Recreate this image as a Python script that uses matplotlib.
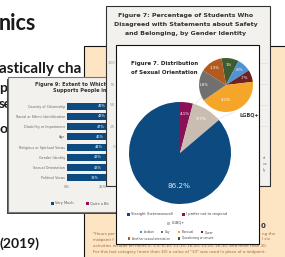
import numpy as np
import matplotlib
matplotlib.use("Agg")
import matplotlib.pyplot as plt
from matplotlib.patches import Rectangle

# --- data ---
fig9_categories = ["Country of Citizenship", "Racial or Ethnic Identification",
                   "Disability or Impairment", "Age", "Religious or Spiritual Views",
                   "Gender Identity", "Sexual Orientation", "Political Views"]
fig9_very_much = [49, 48, 47, 46, 44, 43, 43, 38]
fig9_xticks = [0, 25]

fig7b_labels = ["I prefer not to respond", "LGBQ+", "Straight (heterosexual)"]
fig7b_values = [4.1, 9.7, 86.2]

lgbq_labels = ["Questioning or unsure", "Lesbian", "Queer", "Bisexual", "Gay",
               "Another sexual orientation"]
lgbq_values = [1.0, 0.8, 0.7, 4.1, 1.8, 1.3]
lgbq_text = ["1%", ".8%", ".7%", "4.1%", "1.8%", "1.3%"]

fig7a_yticks = [0, 25, 50, 75, 100]

# colours
BLUE = "#0c4a80"
MAGENTA = "#8c1056"
BEIGE = "#c8bdb0"
lgbq_colors = ["#3f5b30", "#4f93d2", "#6e2222", "#f5a62a", "#707070", "#b35a20"]
PEACH = "#fde5c4"
PANEL = "#f3f1ee"

NARROW = ["Liberation Sans Narrow", "DejaVu Sans"]

W, H = 285, 257
fig = plt.figure(figsize=(W / 100, H / 100), dpi=100)


def px_axes(x0, y0, x1, y1, z):
    # axes whose data coords are picture pixels
    ax = fig.add_axes([x0 / W, 1 - y1 / H, (x1 - x0) / W, (y1 - y0) / H], zorder=z)
    ax.set_xlim(x0, x1)
    ax.set_ylim(y1, y0)
    ax.axis("off")
    return ax


def panel(x0, y0, x1, y1, z, face, edge, shadow=None, lw=0.8):
    ax = px_axes(x0 - 3, y0 - 3, x1 + 3, y1 + 3, z)
    if shadow:
        ax.add_patch(Rectangle((x0 + shadow[0], y0 + shadow[1]), x1 - x0, y1 - y0,
                               fc="#444444", lw=0))
    ax.add_patch(Rectangle((x0, y0), x1 - x0, y1 - y0, fc=face, ec=edge, lw=lw))
    return ax


# background slide (only the uncovered parts of its text)
bg = px_axes(0, 0, W, H, 0)
bg.add_patch(Rectangle((0, 0), W, H, fc="white", lw=0))
tk = dict(family="Lato", weight="bold", color="#1a1a1a", va="baseline", ha="left")
bg.text(-1, 30, "nics", fontsize=15.5, **tk)
bg.text(-1, 73, "astically cha", fontsize=11, **tk)
bg.text(-0.5, 92, "p", fontsize=10, **tk)
bg.text(-1, 108, "se", fontsize=9.5, **tk)
bg.text(-1, 133, "o", fontsize=10, **tk)
bg.text(-1, 248, "(2019)", fontsize=10, **tk)

# peach panel
pe = panel(84, 46, 300, 270, 1, PEACH, "#111111")
fn = dict(family=NARROW, fontsize=2.9, color="#9a6a3c", va="center", ha="left")
pe.text(93, 234, "*Hours per", **fn)
pe.text(93, 239.5, "midpoint f", **fn)
pe.text(262, 234, "ng the", **fn)
pe.text(262, 239.5, "l six", **fn)
pe.text(93, 246, "activities include on hours 0, 1-5, 6-10, 11-15, 16-20, 21-25, 26-30, and more than 30.", **fn)
pe.text(93, 252, "For this last category (more than 30) a value of \"33\" was used in place of a midpoint.", **fn)
pe.text(261, 226, "0", family=NARROW, fontsize=5, weight="bold",
        color="#333333", ha="left", va="center")

# figure 9 panel
p9 = panel(8, 77, 150, 212, 2, PANEL, "#777777", shadow=(-1.2, 1.5))
p9.text(35, 84, "Figure 9: Extent to Which", family=NARROW, fontsize=3.6,
        weight="bold", color="#333333", ha="left", va="center")
p9.text(53, 90.5, "Supports People in Di", family=NARROW, fontsize=3.6,
        weight="bold", color="#333333", ha="left", va="center")
p9.add_patch(Rectangle((51, 201.5), 3, 3, fc=BLUE, lw=0))
p9.text(55.5, 203, "Very Much", family=NARROW, fontsize=2.5, color="#555555", va="center")
p9.add_patch(Rectangle((86, 201.5), 3, 3, fc=MAGENTA, lw=0))
p9.text(90.5, 203, "Quite a Bit", family=NARROW, fontsize=2.5, color="#555555", va="center")

b9 = fig.add_axes([67 / W, 1 - 183 / H, 100 / W, 82 / H], zorder=2.1)
b9.patch.set_alpha(0)
ypos = np.arange(len(fig9_categories))
b9.barh(ypos, fig9_very_much, height=0.7, color=BLUE)
for y, v in zip(ypos, fig9_very_much):
    b9.text(v / 2, y, f"{v}%", color="white", fontsize=2.5, family=NARROW,
            ha="center", va="center")
b9.set_xlim(0, 70)
b9.set_ylim(len(fig9_categories) - 0.5, -0.5)
b9.set_yticks(ypos)
b9.set_yticklabels(fig9_categories, family=NARROW, fontsize=2.4, color="#666666")
b9.set_xticks(fig9_xticks)
b9.set_xticklabels([f"{t}%" for t in fig9_xticks], family=NARROW, fontsize=2.6, color="#777777")
b9.tick_params(length=0, pad=1.5)
for s in b9.spines.values():
    s.set_visible(False)

# figure 7 (percentage) panel
p7 = panel(106, 6, 270, 186, 3, PANEL, "#333333", shadow=(0.8, 0.8))
t7 = dict(family=NARROW, fontsize=4.5, weight="bold", color="#333333", ha="center", va="center")
p7.text(186, 15, "Figure 7: Percentage of Students Who", **t7)
p7.text(186, 24.5, "Disagreed with Statements about Safety", **t7)
p7.text(186, 33.5, "and Belonging, by Gender Identity", **t7)
sm = dict(family=NARROW, fontsize=2.9, color="#777777", ha="left", va="center")
p7.text(263, 158, "rt", **sm)
p7.text(263, 164, "us", **sm)
p7.text(263, 170, "ly", **sm)

g7 = fig.add_axes([117 / W, 1 - 147 / H, 151 / W, 84 / H], zorder=3.1)
g7.patch.set_alpha(0)
g7.set_ylim(0, 100)
g7.set_yticks(fig7a_yticks)
g7.set_yticklabels([str(t) for t in fig7a_yticks], family=NARROW, fontsize=3.0, color="#999999")
g7.set_xticks([])
g7.tick_params(length=0, pad=1.5)
g7.grid(axis="y", color="#dddddd", lw=0.5)
for s in g7.spines.values():
    s.set_visible(False)

# figure 7 (distribution) panel
pw = panel(116, 45, 259, 244, 4, "white", "#111111", shadow=(0.8, 0.8))
pw.text(131, 63, "Figure 7. Distribution", family=NARROW, fontsize=4.0, weight="bold",
        color="#222222", ha="left", va="center")
pw.text(131, 72, "of Sexual Orientation", family=NARROW, fontsize=4.0, weight="bold",
        color="#222222", ha="left", va="center")
pw.text(249, 115, "LGBQ+", family=NARROW, fontsize=3.6, weight="bold", color="#333333",
        ha="center", va="center")
pw.plot([195, 203], [104, 96], color="#bbbbbb", lw=0.5, ls=":")
pw.plot([218, 234], [119, 112], color="#bbbbbb", lw=0.5, ls=":")

lg = dict(family=NARROW, color="#444444", va="center", ha="left")
rows = [
    (214, [(127, BLUE, "Straight (heterosexual)"), (182, MAGENTA, "I prefer not to respond")], 2.6, 3),
    (223, [(167, BEIGE, "LGBQ+")], 2.6, 3),
    (232, [(140, lgbq_colors[1], "Lesbian"), (161, lgbq_colors[4], "Gay"),
           (178, lgbq_colors[3], "Bisexual"), (201, lgbq_colors[2], "Queer")], 2.1, 2.4),
    (238.5, [(128, lgbq_colors[5], "Another sexual orientation"),
             (178, lgbq_colors[0], "Questioning or unsure")], 2.1, 2.4),
]
for y, items, fs, sq in rows:
    for x, c, txt in items:
        pw.add_patch(Rectangle((x, y - sq / 2), sq, sq, fc=c, lw=0))
        pw.text(x + sq + 1.2, y, txt, fontsize=fs, **lg)

# big pie
pa = fig.add_axes([129 / W, 1 - 204 / H, 102 / W, 102 / H], zorder=4.1)
wedges, texts = pa.pie(fig7b_values, colors=[MAGENTA, BEIGE, BLUE], startangle=90,
                       counterclock=False, labels=[f"{v}%" for v in fig7b_values],
                       labeldistance=0.78, wedgeprops=dict(lw=0))
for t, fs in zip(texts, [3.0, 3.2, 5.2]):
    t.set_color("white")
    t.set_fontsize(fs)
    t.set_family(NARROW)
    t.set_ha("center")
    t.set_va("center")
texts[2].set_position((-0.02, -0.65))
texts[2].set_color("#dce6f2")
pa.set_xlim(-1, 1)
pa.set_ylim(-1, 1)
pa.set_aspect("equal")

# LGBQ+ breakdown pie
ps = fig.add_axes([199 / W, 1 - 112 / H, 54 / W, 54 / H], zorder=4.2)
w2, t2 = ps.pie(lgbq_values, colors=lgbq_colors, startangle=99.5, counterclock=False,
                labels=lgbq_text, labeldistance=0.74, wedgeprops=dict(lw=0))
for t in t2:
    t.set_color("white")
    t.set_fontsize(2.8)
    t.set_family(NARROW)
    t.set_ha("center")
    t.set_va("center")
t2[3].set_position((0.0, -0.55))
t2[4].set_position((-0.82, 0.0))
ps.set_xlim(-1, 1)
ps.set_ylim(-1, 1)
ps.set_aspect("equal")

fig.savefig("out.png", dpi=100)
